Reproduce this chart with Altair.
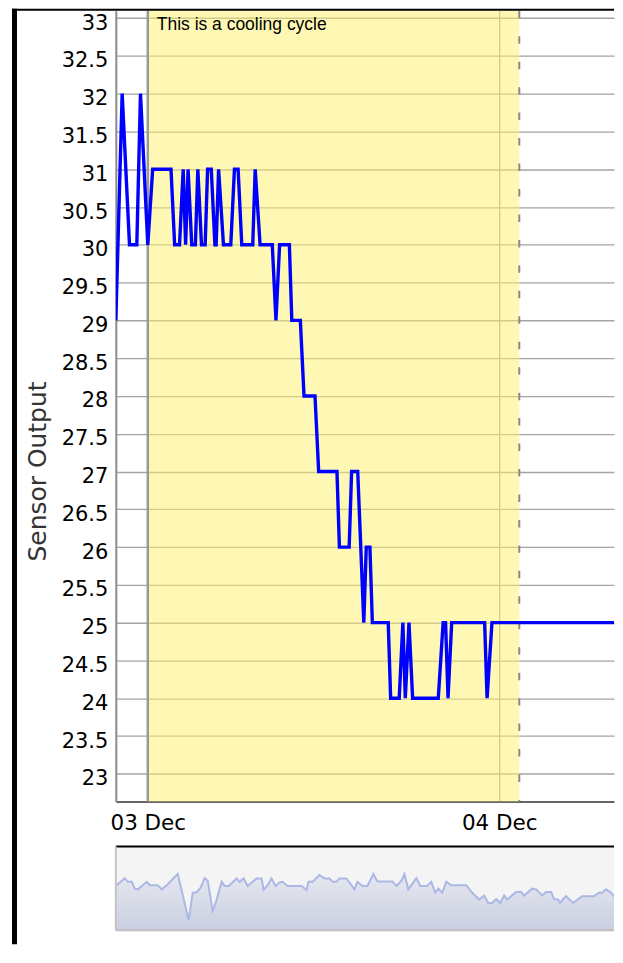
import altair as alt
import pandas as pd

# ---- main series (sensor output, UTC timestamps) ----
times = [
    "2012-12-02T21:49:00Z", "2012-12-02T22:15:00Z", "2012-12-02T22:45:00Z", "2012-12-02T23:15:00Z",
    "2012-12-02T23:30:00Z", "2012-12-03T00:00:00Z", "2012-12-03T00:20:00Z", "2012-12-03T01:35:00Z",
    "2012-12-03T01:50:00Z", "2012-12-03T02:10:00Z", "2012-12-03T02:25:00Z", "2012-12-03T02:35:00Z",
    "2012-12-03T02:45:00Z", "2012-12-03T03:00:00Z", "2012-12-03T03:15:00Z", "2012-12-03T03:25:00Z",
    "2012-12-03T03:40:00Z", "2012-12-03T03:55:00Z", "2012-12-03T04:05:00Z", "2012-12-03T04:20:00Z",
    "2012-12-03T04:35:00Z", "2012-12-03T04:40:00Z", "2012-12-03T04:50:00Z", "2012-12-03T05:10:00Z",
    "2012-12-03T05:40:00Z", "2012-12-03T05:55:00Z", "2012-12-03T06:10:00Z", "2012-12-03T06:25:00Z",
    "2012-12-03T07:10:00Z", "2012-12-03T07:20:00Z", "2012-12-03T07:40:00Z", "2012-12-03T08:30:00Z",
    "2012-12-03T08:45:00Z", "2012-12-03T09:00:00Z", "2012-12-03T09:40:00Z", "2012-12-03T09:50:00Z",
    "2012-12-03T10:25:00Z", "2012-12-03T10:40:00Z", "2012-12-03T11:25:00Z", "2012-12-03T11:40:00Z",
    "2012-12-03T12:55:00Z", "2012-12-03T13:05:00Z", "2012-12-03T13:45:00Z", "2012-12-03T13:55:00Z",
    "2012-12-03T14:20:00Z", "2012-12-03T14:45:00Z", "2012-12-03T14:55:00Z", "2012-12-03T15:10:00Z",
    "2012-12-03T15:20:00Z", "2012-12-03T16:25:00Z", "2012-12-03T16:35:00Z", "2012-12-03T17:10:00Z",
    "2012-12-03T17:25:00Z", "2012-12-03T17:35:00Z", "2012-12-03T17:50:00Z", "2012-12-03T18:05:00Z",
    "2012-12-03T19:50:00Z", "2012-12-03T20:10:00Z", "2012-12-03T20:20:00Z", "2012-12-03T20:30:00Z",
    "2012-12-03T20:45:00Z", "2012-12-03T23:00:00Z", "2012-12-03T23:10:00Z", "2012-12-03T23:30:00Z",
    "2012-12-04T12:00:00Z",
]
values = [
    29, 32, 30, 30,
    32, 30, 31, 31,
    30, 30, 31, 30,
    31, 30, 30, 31,
    30, 30, 31, 31,
    30, 30, 31, 30,
    30, 31, 31, 30,
    30, 31, 30, 30,
    29, 30, 30, 29,
    29, 28, 28, 27,
    27, 26, 26, 27,
    27, 25, 26, 26,
    25, 25, 24, 24,
    25, 24, 25, 24,
    24, 25, 25, 24,
    25, 25, 24, 25,
    25,
]

# ---- highlighted event ----
hl_start = ["2012-12-03T00:00:00Z"]
hl_end = ["2012-12-04T01:22:00Z"]
hl_label = ["This is a cooling cycle"]

# ---- axis ticks ----
y_ticks = [23, 23.5, 24, 24.5, 25, 25.5, 26, 26.5, 27, 27.5, 28, 28.5,
           29, 29.5, 30, 30.5, 31, 31.5, 32, 32.5, 33]
x_tick_days = [3, 4]

# ---- range-selector overview series ----
ov_hours = [0, 4, 9, 12, 16, 19, 22, 26, 31, 34,
            42, 46, 51, 62, 73, 77, 81, 85, 89, 92,
            97, 100, 106, 109, 113, 121, 124, 128, 132, 137,
            141, 146, 148, 152, 156, 160, 164, 167, 172, 186,
            191, 193, 197, 204, 209, 214, 217, 221, 224, 231,
            236, 239, 242, 247, 252, 258, 262, 277, 281, 286,
            289, 293, 301, 305, 312, 316, 320, 323, 327, 331,
            336, 351, 357, 364, 369, 373, 377, 381, 385, 389,
            392, 401, 406, 409, 417, 421, 427, 431, 436, 439,
            443, 445, 448, 451, 458, 467, 479, 484, 487, 491,
            496, 499, 504, 507]
ov_values = [28.0, 29.0, 30.2, 29.2, 29.2, 27.2, 27.0, 28.0, 29.2, 28.2,
             28.2, 27.0, 28.2, 31.5, 18.0, 26.0, 26.2, 27.5, 30.3, 29.5,
             20.7, 23.0, 29.2, 28.0, 28.0, 30.2, 29.2, 30.2, 28.0, 29.2,
             30.2, 30.2, 26.8, 28.2, 30.2, 28.0, 29.0, 29.2, 28.0, 28.0,
             26.8, 29.2, 29.2, 31.2, 30.2, 30.2, 29.2, 29.2, 30.2, 30.2,
             28.2, 27.0, 29.2, 28.0, 28.0, 31.5, 29.3, 29.3, 28.0, 29.5,
             31.5, 27.0, 30.3, 28.0, 28.0, 29.2, 26.0, 27.2, 26.0, 29.2,
             28.2, 28.2, 26.0, 24.0, 25.2, 23.0, 23.0, 24.2, 23.0, 25.2,
             24.0, 26.2, 26.2, 25.2, 27.2, 27.0, 25.2, 26.2, 26.2, 24.2,
             24.0, 23.0, 24.2, 25.0, 23.0, 25.0, 25.0, 26.0, 26.0, 27.0,
             26.0, 25.0, 27.0, 28.5]

W = 499
H = 792
HS = 84

main_df = pd.DataFrame({"t": times, "v": values})
hl_df = pd.DataFrame({"start": hl_start, "end": hl_end, "label": hl_label})
ov_df = pd.DataFrame({"h": ov_hours, "v": ov_values})

xscale = alt.Scale(
    type="utc",
    domain=[alt.DateTime(year=2012, month=12, date=2, hours=21, minutes=49, utc=True),
            alt.DateTime(year=2012, month=12, date=4, hours=7, minutes=50, utc=True)],
)
yscale = alt.Scale(domain=[22.634, 33.097], nice=False, zero=False)

FONT = "DejaVu Sans"
GRID = "#a3a3a3"

x_axis = alt.Axis(
    values=[alt.DateTime(year=2012, month=12, date=d, utc=True) for d in x_tick_days],
    format="%d %b", title=None, ticks=False, labelFlush=False, labelOverlap=False,
    labelFont=FONT, labelFontSize=21.5, labelColor="black", labelPadding=11,
    domainColor="#666666", domainWidth=2, gridColor=GRID, gridWidth=1.3,
)
y_axis = alt.Axis(
    values=y_ticks, format="~g", ticks=False, labelOverlap=False, labelFlush=False,
    labelFont=FONT, labelFontSize=21, labelColor="black", labelPadding=8,
    labelBaseline="middle", labelOffset=5,
    domainColor="#8a8a8a", domainWidth=2, gridColor=GRID, gridWidth=1.3,
    title="Sensor Output", titleFont=FONT, titleFontSize=25, titleFontWeight="normal",
    titleColor="#333333", titleX=-78, titleY=461, titleAngle=270,
    titleBaseline="middle", titleAlign="center",
)

base_hl = alt.Chart(hl_df)

highlight = base_hl.mark_rect(color="#fff171", opacity=0.52).encode(
    x=alt.X("start:T", scale=xscale, axis=x_axis),
    x2="end:T",
    y=alt.value(0), y2=alt.value(H),
)
start_rule = base_hl.mark_rule(color="#999999", strokeWidth=2.5).encode(
    x=alt.X("start:T", scale=xscale, axis=x_axis),
)
end_rule = base_hl.mark_rule(color="#8a8a8a", strokeWidth=2, strokeDash=[7.5, 18]).encode(
    x=alt.X("end:T", scale=xscale, axis=x_axis),
)
label = base_hl.mark_text(align="left", baseline="alphabetic", dx=9,
                          font="Liberation Sans", fontSize=17.5, color="black").encode(
    x=alt.X("start:T", scale=xscale, axis=x_axis),
    y=alt.value(19),
    text="label:N",
)
line = alt.Chart(main_df).mark_line(color="#0000ff", strokeWidth=3.4, clip=True).encode(
    x=alt.X("t:T", scale=xscale, axis=x_axis),
    y=alt.Y("v:Q", scale=yscale, axis=y_axis),
)
# page frame decoration
frame_left = base_hl.mark_rect(color="black").encode(
    x=alt.value(-104), x2=alt.value(-99), y=alt.value(-2), y2=alt.value(935))
frame_top = base_hl.mark_rect(color="black").encode(
    x=alt.value(-104), x2=alt.value(W), y=alt.value(-2), y2=alt.value(0))

main = alt.layer(highlight, start_rule, end_rule, line, label, frame_left, frame_top).properties(
    width=W, height=H)

# ---- range selector ----
ov_x = alt.Scale(domain=[0, W], nice=False, zero=False)
ov_y = alt.Scale(domain=[15, 39.6], nice=False, zero=False)

sel_bg = base_hl.mark_rect(color="#f4f4f4").encode(
    x=alt.value(0), x2=alt.value(W), y=alt.value(0), y2=alt.value(HS))
sel_area = alt.Chart(ov_df).mark_area(
    clip=True,
    color=alt.Gradient(gradient="linear",
                       stops=[alt.GradientStop(color="#e6e8ef", offset=0),
                              alt.GradientStop(color="#c9cfe1", offset=1)],
                       x1=1, x2=1, y1=0, y2=1),
).encode(
    x=alt.X("h:Q", scale=ov_x, axis=None),
    y=alt.Y("v:Q", scale=ov_y, axis=None),
    y2=alt.datum(15),
)
sel_line = alt.Chart(ov_df).mark_line(color="#abb8e6", strokeWidth=2, clip=True).encode(
    x=alt.X("h:Q", scale=ov_x, axis=None),
    y=alt.Y("v:Q", scale=ov_y, axis=None),
)
sel_top = base_hl.mark_rule(color="black", strokeWidth=2).encode(
    x=alt.value(0), x2=alt.value(W), y=alt.value(0))
sel_left = base_hl.mark_rule(color="#c4c4c4", strokeWidth=2).encode(
    x=alt.value(0), y=alt.value(0), y2=alt.value(HS))
sel_bottom = base_hl.mark_rule(color="#c0c0c0", strokeWidth=2).encode(
    x=alt.value(0), x2=alt.value(W), y=alt.value(HS))

selector = alt.layer(sel_bg, sel_area, sel_line, sel_top, sel_left, sel_bottom).properties(
    width=W, height=HS)

chart = alt.vconcat(main, selector, spacing=45, bounds="flush").properties(
    padding={"left": 4, "top": 0, "right": 0, "bottom": 0}
).configure_view(strokeWidth=0)

chart.save("out.html", embed_options={"renderer": "svg", "actions": False})
